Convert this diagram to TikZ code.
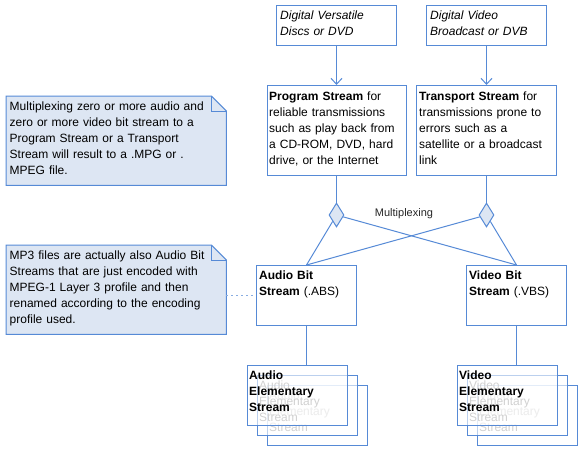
\documentclass[tikz,border=0pt]{standalone}
\usepackage{fontspec}
\setmainfont{Liberation Sans}
\usetikzlibrary{arrows.meta,shapes.geometric,calc}
\definecolor{edge}{RGB}{86,138,214}
\definecolor{notefill}{RGB}{221,230,243}
\definecolor{ghost}{RGB}{140,140,140}
\begin{document}
\begin{tikzpicture}[x=1pt,y=-1pt,
  box/.style={draw=edge,line width=1pt,rectangle,inner sep=0pt,anchor=north west,minimum width=#1},
  box/.default=100pt,
  stackbox/.style={box=100pt,minimum height=60pt,fill=white,fill opacity=0.6},
  txt/.style={inner sep=0pt,anchor=north west,align=left,text width=220pt,font=\fontsize{12}{16}\selectfont},
  ghosttxt/.style={txt,text=ghost},
  conn/.style={draw=edge,line width=1pt},
  notebox/.style={inner sep=0pt,anchor=north west,minimum width=220pt,minimum height=89pt},
  notedraw/.style={draw=edge,line width=1pt,fill=notefill,line join=miter},
  joint/.style={diamond,draw=edge,fill=notefill,line width=1pt,inner sep=0pt,minimum width=15pt,minimum height=24pt},
  arr/.style={conn,-{Straight Barb[length=6pt,width=11pt]}}
]
\useasboundingbox (0,0) rectangle (582,450);

% top source boxes
\node[box=120pt,minimum height=40pt] (dvd) at (276,5) {};
\node[txt] (dvdt) at (280,8.3) {\strut\itshape Digital Versatile\\ Discs or DVD};
\node[box=120pt,minimum height=40pt] (dvb) at (426,5) {};
\node[txt] (dvbt) at (430,8.3) {\strut\itshape Digital Video\\ Broadcast or DVB};

% stream boxes
\node[box=139pt,minimum height=90pt] (ps) at (267,85) {};
\node[txt] (pst) at (269,88.8) {\strut\textbf{Program Stream} for\\ reliable transmissions\\ such as play back from\\ a CD-ROM, DVD, hard\\ drive, or the Internet};
\node[box=140pt,minimum height=90pt] (ts) at (416,85) {};
\node[txt] (tst) at (419,88.8) {\strut\textbf{Transport Stream} for\\ transmissions prone to\\ errors such as a\\ satellite or a broadcast\\ link};

\draw[arr] (dvd.south) -- (dvd.south |- ps.north);
\draw[arr] (dvb.south) -- (dvb.south |- ts.north);

% notes
\node[notebox] (note1) at (6,96) {};
\draw[notedraw] (note1.north west) -- ($(note1.north east)+(-15,0)$) -- ($(note1.north east)+(0,15)$) -- (note1.south east) -- (note1.south west) -- cycle;
\draw[conn] ($(note1.north east)+(-15,0)$) -- ($(note1.north east)+(-15,15)$) -- ($(note1.north east)+(0,15)$);
\node[txt] (n1t) at (9.5,98.8) {\strut Multiplexing zero or more audio and\\ zero or more video bit stream to a\\ Program Stream or a Transport\\ Stream will result to a .MPG or .\\ MPEG file.};

\node[notebox] (note2) at (6,245) {};
\draw[notedraw] (note2.north west) -- ($(note2.north east)+(-15,0)$) -- ($(note2.north east)+(0,15)$) -- (note2.south east) -- (note2.south west) -- cycle;
\draw[conn] ($(note2.north east)+(-15,0)$) -- ($(note2.north east)+(-15,15)$) -- ($(note2.north east)+(0,15)$);
\node[txt] (n2t) at (9.5,247.8) {\strut MP3 files are actually also Audio Bit\\ Streams that are just encoded with\\ MPEG-1 Layer 3 profile and then\\ renamed according to the encoding\\ profile used.};

% bit stream boxes
\node[box=100pt,minimum height=60pt] (abs) at (256,265) {};
\node[txt] (abst) at (259,267.8) {\strut\textbf{Audio Bit}\\ \textbf{Stream} (.ABS)};
\node[box=100pt,minimum height=60pt] (vbs) at (466,265) {};
\node[txt] (vbst) at (469,267.8) {\strut\textbf{Video Bit}\\ \textbf{Stream} (.VBS)};

\draw[draw=edge!70,line width=1pt,dash pattern=on 2pt off 3pt] (note2.east |- abs.west) -- (abs.west);

% multiplexing joints
\node[joint] (dl) at (336.5,215) {};
\node[joint] (dr) at (486.5,215) {};
\node[inner sep=0pt,anchor=base,font=\fontsize{11}{13}\selectfont,text=black!85] (mux) at (404,216) {Multiplexing};

\draw[conn] (ps.south -| dl) -- (dl.north);
\draw[conn] (ts.south -| dr) -- (dr.north);
\draw[conn] (dl) -- (abs.north);
\draw[conn] (dl) -- (vbs.north);
\draw[conn] (dr) -- (abs.north);
\draw[conn] (dr) -- (vbs.north);

% audio elementary stream stack
\node[stackbox] (aes3) at (267,385) {};
\node[ghosttxt] (aes3t) at (269,387.8) {\strut Audio\\ Elementary\\ Stream};
\node[stackbox] (aes2) at (257,375) {};
\node[ghosttxt] (aes2t) at (259,377.8) {\strut Audio\\ Elementary\\ Stream};
\node[stackbox] (aes) at (247,365) {};
\node[txt] (aest) at (249,367.8) {\strut\bfseries Audio\\ Elementary\\ Stream};

% video elementary stream stack
\node[stackbox] (ves3) at (477,385) {};
\node[ghosttxt] (ves3t) at (479,387.8) {\strut Video\\ Elementary\\ Stream};
\node[stackbox] (ves2) at (467,375) {};
\node[ghosttxt] (ves2t) at (469,377.8) {\strut Video\\ Elementary\\ Stream};
\node[stackbox] (ves) at (457,365) {};
\node[txt] (vest) at (459,367.8) {\strut\bfseries Video\\ Elementary\\ Stream};

\draw[conn] (abs.south) -- (abs.south |- aes.north);
\draw[conn] (vbs.south) -- (vbs.south |- ves.north);
\end{tikzpicture}
\end{document}
